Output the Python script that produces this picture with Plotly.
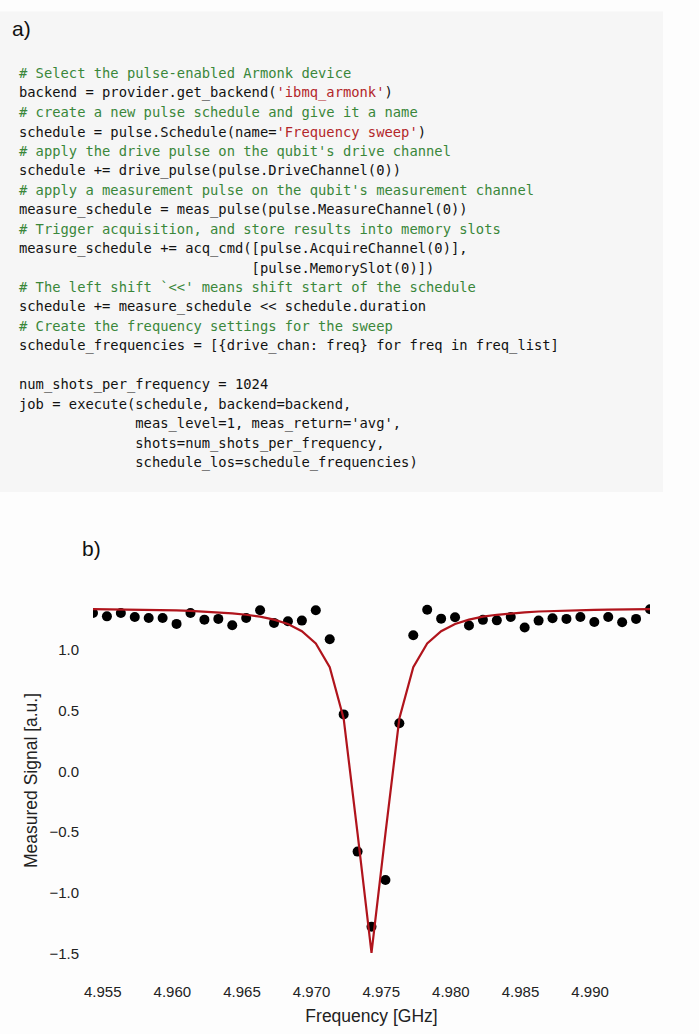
import plotly.graph_objects as go

# ---------------- data ----------------
frequencies_ghz = [4.9543, 4.9553, 4.9563, 4.9573, 4.9583, 4.9593, 4.9603, 4.9613, 4.9623, 4.9633,
                   4.9643, 4.9653, 4.9663, 4.9673, 4.9683, 4.9693, 4.9703, 4.9713, 4.9723, 4.9733,
                   4.9743, 4.9753, 4.9763, 4.9773, 4.9783, 4.9793, 4.9803, 4.9813, 4.9823, 4.9833,
                   4.9843, 4.9853, 4.9863, 4.9873, 4.9883, 4.9893, 4.9903, 4.9913, 4.9923, 4.9933,
                   4.9943]
measured_signal = [1.306, 1.279, 1.306, 1.274, 1.266, 1.266, 1.217, 1.306, 1.252, 1.258,
                   1.206, 1.266, 1.330, 1.225, 1.238, 1.244, 1.330, 1.090, 0.471, -0.660,
                   -1.279, -0.894, 0.398, 1.123, 1.333, 1.260, 1.271, 1.204, 1.250, 1.246,
                   1.274, 1.187, 1.244, 1.263, 1.258, 1.274, 1.233, 1.274, 1.230, 1.258,
                   1.338]
fit_signal = [1.338, 1.337, 1.336, 1.334, 1.333, 1.331, 1.328, 1.324, 1.319, 1.312,
              1.304, 1.292, 1.277, 1.252, 1.216, 1.157, 1.055, 0.860, 0.438, -0.511,
              -1.494, -0.511, 0.438, 0.860, 1.055, 1.157, 1.216, 1.252, 1.277, 1.292,
              1.304, 1.312, 1.319, 1.324, 1.328, 1.331, 1.333, 1.334, 1.336, 1.337,
              1.338]
x_tick_values = [4.955, 4.960, 4.965, 4.970, 4.975, 4.980, 4.985, 4.990]
y_tick_values = [-1.5, -1.0, -0.5, 0.0, 0.5, 1.0]

GREEN = "#3a873a"
RED = "#b3262a"
BLACK = "#111111"

code_lines = [
    [("# Select the pulse-enabled Armonk device", GREEN)],
    [("backend = provider.get_backend(", BLACK), ("'ibmq_armonk'", RED), (")", BLACK)],
    [("# create a new pulse schedule and give it a name", GREEN)],
    [("schedule = pulse.Schedule(name=", BLACK), ("'Frequency sweep'", RED), (")", BLACK)],
    [("# apply the drive pulse on the qubit's drive channel", GREEN)],
    [("schedule += drive_pulse(pulse.DriveChannel(0))", BLACK)],
    [("# apply a measurement pulse on the qubit's measurement channel", GREEN)],
    [("measure_schedule = meas_pulse(pulse.MeasureChannel(0))", BLACK)],
    [("# Trigger acquisition, and store results into memory slots", GREEN)],
    [("measure_schedule += acq_cmd([pulse.AcquireChannel(0)],", BLACK)],
    [(" " * 28 + "[pulse.MemorySlot(0)])", BLACK)],
    [("# The left shift `<<' means shift start of the schedule", GREEN)],
    [("schedule += measure_schedule << schedule.duration", BLACK)],
    [("# Create the frequency settings for the sweep", GREEN)],
    [("schedule_frequencies = [{drive_chan: freq} for freq in freq_list]", BLACK)],
    [],
    [("num_shots_per_frequency = 1024", BLACK)],
    [("job = execute(schedule, backend=backend,", BLACK)],
    [(" " * 14 + "meas_level=1, meas_return='avg',", BLACK)],
    [(" " * 14 + "shots=num_shots_per_frequency,", BLACK)],
    [(" " * 14 + "schedule_los=schedule_frequencies)", BLACK)],
]

# ---------------- layout geometry (pixels) ----------------
FIG_W, FIG_H = 699, 1034
M_L, M_R, M_T, M_B = 93, 49, 591, 56.5
PLOT_W = FIG_W - M_L - M_R
PLOT_H = FIG_H - M_T - M_B


def px_x(px):
    return (px - M_L) / PLOT_W


def px_y(py):
    return (FIG_H - M_B - py) / PLOT_H


fig = go.Figure()

fig.add_trace(go.Scatter(
    x=frequencies_ghz, y=measured_signal, mode="markers",
    marker=dict(color="black", size=10, line=dict(width=0)),
    showlegend=False, hoverinfo="skip"))

fig.add_trace(go.Scatter(
    x=frequencies_ghz, y=fit_signal, mode="lines",
    line=dict(color="#b0141c", width=2.2),
    showlegend=False, hoverinfo="skip"))

annotations = []
CODE_X = 17
CODE_Y0 = 63
CODE_DY = 19.85
for i, segs in enumerate(code_lines):
    if not segs:
        continue
    html = ""
    for txt, col in segs:
        txt = txt.replace("&", "&amp;").replace("<", "&lt;").replace(">", "&gt;")
        txt = txt.replace(" ", "\u00a0")
        html += '<span style="color:%s">%s</span>' % (col, txt)
    annotations.append(dict(
        text=html, x=px_x(CODE_X), y=px_y(CODE_Y0 + i * CODE_DY),
        xref="paper", yref="paper", xanchor="left", yanchor="middle",
        showarrow=False, align="left",
        font=dict(family="DejaVu Sans Mono", size=13.8, color=BLACK)))

annotations.append(dict(text="a)", x=px_x(10), y=px_y(17), xref="paper", yref="paper",
                        xanchor="left", yanchor="middle", showarrow=False,
                        font=dict(family="Liberation Sans", size=21, color="#111")))
annotations.append(dict(text="b)", x=px_x(80), y=px_y(548), xref="paper", yref="paper",
                        xanchor="left", yanchor="middle", showarrow=False,
                        font=dict(family="Liberation Sans", size=21, color="#111")))

shapes = [dict(type="rect", xref="paper", yref="paper",
               x0=px_x(0), x1=px_x(663), y0=px_y(490), y1=px_y(0),
               fillcolor="#f6f6f6", line=dict(width=0), layer="below")]

fig.update_layout(
    width=FIG_W, height=FIG_H,
    margin=dict(l=M_L, r=M_R, t=M_T, b=M_B, pad=0),
    paper_bgcolor="#fdfdfd", plot_bgcolor="#fdfdfd",
    font=dict(family="Liberation Sans", color="#222"),
    annotations=annotations, shapes=shapes,
    xaxis=dict(range=[4.9543, 4.9943], tickvals=x_tick_values, tickformat=".3f",
               showgrid=False, zeroline=False, showline=False,
               ticks="outside", ticklen=8, tickcolor="rgba(0,0,0,0)",
               tickfont=dict(size=15, family="Liberation Sans", color="#222"),
               title=dict(text="Frequency [GHz]", standoff=10,
                          font=dict(size=17.5, family="Liberation Sans", color="#222"))),
    yaxis=dict(range=[-1.636, 1.488], tickvals=y_tick_values, tickformat=".1f",
               showgrid=False, zeroline=False, showline=False,
               ticks="outside", ticklen=10, tickcolor="rgba(0,0,0,0)",
               tickfont=dict(size=15, family="Liberation Sans", color="#222"),
               title=dict(text="Measured Signal [a.u.]", standoff=7,
                          font=dict(size=17.5, family="Liberation Sans", color="#222"))),
)

fig.write_html("out.html",
               config={"displayModeBar": False},
               post_script="document.body.style.margin='0';document.body.style.padding='0';"
                           "document.body.style.background='#fdfdfd';")
